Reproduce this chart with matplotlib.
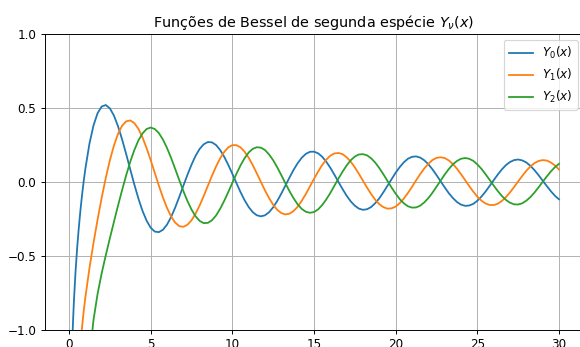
import matplotlib
matplotlib.use("Agg")
import matplotlib.pyplot as plt

# Sample positions (x) and values read for each curve
x_all = [0.2, 0.25, 0.3, 0.4, 0.5, 0.6, 0.7, 0.8, 0.9, 1.0,
         1.25, 1.5, 1.75, 2.0, 2.25, 2.5, 2.75, 3.0, 3.25, 3.5, 3.75, 4.0,
         4.25, 4.5, 4.75, 5.0, 5.25, 5.5, 5.75, 6.0, 6.25, 6.5, 6.75, 7.0,
         7.25, 7.5, 7.75, 8.0, 8.25, 8.5, 8.75, 9.0, 9.25, 9.5, 9.75, 10.0,
         10.5, 11.0, 11.5, 12.0, 12.5, 13.0, 13.5, 14.0, 14.5, 15.0, 15.5,
         16.0, 16.5, 17.0, 17.5, 18.0, 18.5, 19.0, 19.5, 20.0, 20.5, 21.0,
         21.5, 22.0, 22.5, 23.0, 23.5, 24.0, 24.5, 25.0, 25.5, 26.0, 26.5,
         27.0, 27.5, 28.0, 28.5, 29.0, 29.5, 30.0]

y0 = [-1.081, -0.932, -0.807, -0.606, -0.445, -0.309, -0.191, -0.087, 0.006, 0.088,
      0.258, 0.382, 0.465, 0.510, 0.520, 0.498, 0.449, 0.377, 0.288, 0.189,
      0.085, -0.017, -0.112, -0.195, -0.261, -0.309, -0.335, -0.339, -0.323, -0.288,
      -0.237, -0.173, -0.101, -0.026, 0.048, 0.117, 0.177, 0.224, 0.255, 0.270,
      0.268, 0.250, 0.217, 0.171, 0.116, 0.056,
      -0.068, -0.169, -0.225, -0.225, -0.171, -0.078, 0.030, 0.127, 0.190, 0.205,
      0.171, 0.096, 0.000, -0.093, -0.160, -0.188, -0.169, -0.110, -0.025, 0.063,
      0.133, 0.170, 0.165, 0.120, 0.047, -0.036, -0.108, -0.153, -0.159, -0.127,
      -0.065, 0.012, 0.085, 0.135, 0.152, 0.132, 0.080, 0.009, -0.062, -0.117]

y1 = [-1.103, -0.978, -0.873, -0.781,
      -0.584, -0.412, -0.254, -0.107, 0.027, 0.146, 0.246, 0.325, 0.380, 0.410,
      0.416, 0.398, 0.359, 0.301, 0.229, 0.148, 0.062, -0.024, -0.104, -0.175,
      -0.233, -0.274, -0.298, -0.303, -0.289, -0.259, -0.214, -0.158, -0.094, -0.026,
      0.041, 0.104, 0.159, 0.203, 0.234, 0.249,
      0.234, 0.164, 0.058, -0.057, -0.154, -0.210, -0.214, -0.167, -0.081, 0.021,
      0.115, 0.178, 0.196, 0.167, 0.099, 0.008, -0.082, -0.150, -0.180, -0.166,
      -0.112, -0.033, 0.053, 0.123, 0.163, 0.162, 0.122, 0.053, -0.027, -0.099,
      -0.145, -0.156, -0.128, -0.070, 0.004, 0.076, 0.128, 0.148, 0.132, 0.084]

y2 = [-1.193, -0.932, -0.756, -0.617, -0.496, -0.381, -0.270, -0.160, -0.055, 0.045,
      0.137, 0.216, 0.281, 0.328, 0.358, 0.368, 0.358, 0.331, 0.287, 0.230,
      0.163, 0.089, 0.013, -0.061, -0.128, -0.186, -0.232, -0.263, -0.278, -0.276,
      -0.259, -0.227, -0.182, -0.128, -0.068, -0.006,
      0.112, 0.199, 0.235, 0.216, 0.147, 0.046, -0.062, -0.151, -0.201, -0.203,
      -0.156, -0.074, 0.024, 0.112, 0.172, 0.188, 0.160, 0.094, 0.007, -0.079,
      -0.144, -0.173, -0.160, -0.109, -0.032, 0.050, 0.119, 0.157, 0.157, 0.119,
      0.053, -0.024, -0.094, -0.140, -0.152, -0.126, -0.071, 0.001, 0.071, 0.123]

# Extra readings between the half-unit samples (x = 10.25, 10.75, ..., 29.75)
x_mid = [10.25, 10.75, 11.25, 11.75, 12.25, 12.75, 13.25, 13.75, 14.25, 14.75,
         15.25, 15.75, 16.25, 16.75, 17.25, 17.75, 18.25, 18.75, 19.25, 19.75,
         20.25, 20.75, 21.25, 21.75, 22.25, 22.75, 23.25, 23.75, 24.25, 24.75,
         25.25, 25.75, 26.25, 26.75, 27.25, 27.75, 28.25, 28.75, 29.25, 29.75]
y0_mid = [-0.007, -0.123, -0.204, -0.232, -0.204, -0.128, -0.024, 0.082, 0.164, 0.204,
          0.194, 0.137, 0.049, -0.048, -0.131, -0.180, -0.184, -0.143, -0.069, 0.019,
          0.101, 0.157, 0.173, 0.147, 0.086, 0.005, -0.075, -0.135, -0.161, -0.148,
          -0.099, -0.027, 0.050, 0.114, 0.148, 0.146, 0.109, 0.046, -0.027, -0.093]
y1_mid = [0.249, 0.205, 0.114, -0.000, -0.109, -0.188, -0.219, -0.196, -0.127, -0.030,
          0.070, 0.151, 0.193, 0.188, 0.137, 0.055, -0.038, -0.120, -0.170, -0.178,
          -0.143, -0.074, 0.011, 0.091, 0.148, 0.167, 0.146, 0.090, 0.013, -0.065,
          -0.126, -0.155, -0.147, -0.102, -0.034, 0.041, 0.105, 0.142, 0.145, 0.112]
y2_mid = [0.055, 0.161, 0.224, 0.232, 0.186, 0.099, -0.009, -0.110, -0.182, -0.208,
          -0.185, -0.118, -0.025, 0.070, 0.147, 0.186, 0.180, 0.131, 0.052, -0.038,
          -0.116, -0.164, -0.172, -0.138, -0.073, 0.009, 0.087, 0.142, 0.162, 0.143,
          0.089, 0.015, -0.061, -0.121, -0.151, -0.144, -0.102, -0.036, 0.037, 0.100]

labels = [r"$Y_0(x)$", r"$Y_1(x)$", r"$Y_2(x)$"]
title = r"Funções de Bessel de segunda espécie $Y_\nu(x)$"
y_ticks = [-1.0, -0.5, 0.0, 0.5, 1.0]
x_ticks = [0, 5, 10, 15, 20, 25, 30]


def merged(ys, ys_mid):
    xs = x_all[len(x_all) - len(ys):]
    pts = sorted(list(zip(xs, ys)) + list(zip(x_mid, ys_mid)))
    return [p[0] for p in pts], [p[1] for p in pts]


DPI = 86
fig = plt.figure(figsize=(580 / DPI, 347 / DPI), dpi=DPI)
ax = fig.add_axes([44.5 / 580, 17 / 347, 539 / 580, 296 / 347])
for ys, ys_mid, lab in zip([y0, y1, y2], [y0_mid, y1_mid, y2_mid], labels):
    xx, yy = merged(ys, ys_mid)
    ax.plot(xx, yy, label=lab)
ax.set_xlim(-1.5, 31.5)
ax.set_ylim(-1, 1)
ax.set_xticks(x_ticks)
ax.set_yticks(y_ticks)
ax.set_title(title)
ax.grid(True)
ax.legend(loc="upper right")
fig.savefig("out.png", dpi=DPI)
